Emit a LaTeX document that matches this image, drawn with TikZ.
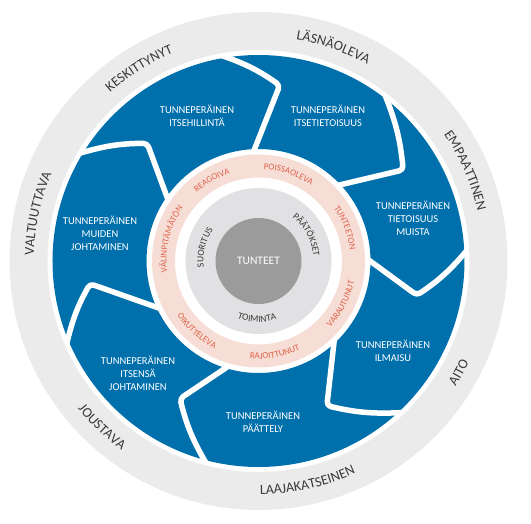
\documentclass[tikz,border=0pt]{standalone}
\usepackage{fontspec}
\setmainfont{Carlito}
\usetikzlibrary{decorations.text}

\definecolor{segblue}{HTML}{0070AD}
\definecolor{ringgray}{HTML}{EBEBEB}
\definecolor{ringpink}{HTML}{F6DDD5}
\definecolor{pinktext}{HTML}{E0644C}
\definecolor{coregray}{HTML}{E1E1E3}
\definecolor{coredark}{HTML}{9B9B9B}
\definecolor{labeltext}{HTML}{3A3A3A}

\tikzset{
  seglabel/.style={align=center, text=white, font=\fontsize{10.5}{13}\selectfont},
  separator/.style={white, line width=5.5pt, line join=round, line cap=round, rounded corners=4pt},
}

% words set on a circle: angle, radius, size, colour, text
\newcommand\cwlabel[5]{%
  \path[decorate, decoration={text along path, text align=center, text color=#4,
      text={|\fontsize{#3}{#3}\selectfont|#5}}]
    (#1+45:#2) arc[start angle=#1+45, end angle=#1-45, radius=#2pt];}
\newcommand\ccwlabel[5]{%
  \path[decorate, decoration={text along path, text align=center, text color=#4,
      text={|\fontsize{#3}{#3}\selectfont|#5}}]
    (#1-45:#2) arc[start angle=#1-45, end angle=#1+45, radius=#2pt];}

\begin{document}
\begin{tikzpicture}[x=1pt, y=1pt]
        % Define radii
        \def\rcore{43}
        \def\rmid{73}
        \def\rpinkin{83.5}
        \def\rpinkout{106.5}
        \def\rblueout{206}

        \useasboundingbox (-258.5,-262) rectangle (272.5,261);

        % Blue band with its white chevrons
        \fill[segblue, even odd rule] (0,0) circle[radius=\rblueout pt] circle[radius=112pt];
        \foreach \ao/\at/\rt/\ai in {149/133.4/162/146, 100.3/83.1/177/92.7,
            52.8/32.2/171/43.8, 3/-12.2/162/1, -46.5/-64.7/160/-45.9,
            -104.5/-119.7/158.5/-105.8, 203.4/187.7/170/205.9}
            \draw[separator] (\ao:209) to[bend left=8] (\at:\rt) -- (\ai:109);

        % Rings
        \fill[ringgray, even odd rule] (0,0) circle[radius=249pt] circle[radius=211pt];
        \fill[ringpink, even odd rule] (0,0) circle[radius=\rpinkout pt] circle[radius=\rpinkin pt];
        \fill[coregray] (0,0) circle[radius=\rmid pt];
        \fill[coredark] (0,0) circle[radius=\rcore pt];

        % Segment texts
        \node[seglabel] (hillinta) at (-61.5,145) {TUNNEPERÄINEN\\ITSEHILLINTÄ};
        \node[seglabel] (tietoisuus) at (69.5,145) {TUNNEPERÄINEN\\ITSETIETOISUUS};
        \node[seglabel] (muista) at (154.5,43) {TUNNEPERÄINEN\\TIETOISUUS\\MUISTA};
        \node[seglabel] (ilmaisu) at (134.5,-90) {TUNNEPERÄINEN\\ILMAISU};
        \node[seglabel] (paattely) at (4.5,-161) {TUNNEPERÄINEN\\PÄÄTTELY};
        \node[seglabel] (itsensa) at (-120.5,-112) {TUNNEPERÄINEN\\ITSENSÄ\\JOHTAMINEN};
        \node[seglabel] (muiden) at (-158.5,28) {TUNNEPERÄINEN\\MUIDEN\\JOHTAMINEN};
        \node[text=white, font=\fontsize{11.5}{11.5}\selectfont] (tunteet) at (0,0) {TUNTEET};

        % Outer ring words
        \cwlabel{121.8}{224.6}{14}{labeltext}{KESKITTYNYT}
        \cwlabel{70.7}{224.6}{14}{labeltext}{LÄSNÄOLEVA}
        \cwlabel{23.6}{224.6}{14}{labeltext}{EMPAATTINEN}
        \ccwlabel{-29}{233.4}{14}{labeltext}{AITO}
        \ccwlabel{-77.5}{233.4}{14}{labeltext}{LAAJAKATSEINEN}
        \ccwlabel{-133.3}{233.4}{14}{labeltext}{JOUSTAVA}
        \cwlabel{167.9}{224.6}{14}{labeltext}{VALTUUTTAVA}

        % Pink ring words
        \cwlabel{120}{92}{9}{pinktext}{REAGOIVA}
        \cwlabel{71}{92}{9}{pinktext}{POISSAOLEVA}
        \cwlabel{21}{92}{9}{pinktext}{TUNTEETON}
        \ccwlabel{-27.5}{98}{9}{pinktext}{VARAUTUNUT}
        \ccwlabel{-80}{98}{9}{pinktext}{RAJOITTUNUT}
        \ccwlabel{-131.5}{98}{9}{pinktext}{OIKUTTELEVA}
        \cwlabel{166}{92}{9}{pinktext}{VÄLINPITÄMÄTÖN}

        % Inner ring words
        \cwlabel{166}{55}{9.5}{labeltext}{SUORITUS}
        \cwlabel{28.5}{55}{9.5}{labeltext}{PÄÄTÖKSET}
        \ccwlabel{-91.5}{61}{9.5}{labeltext}{TOIMINTA}
\end{tikzpicture}
\end{document}
